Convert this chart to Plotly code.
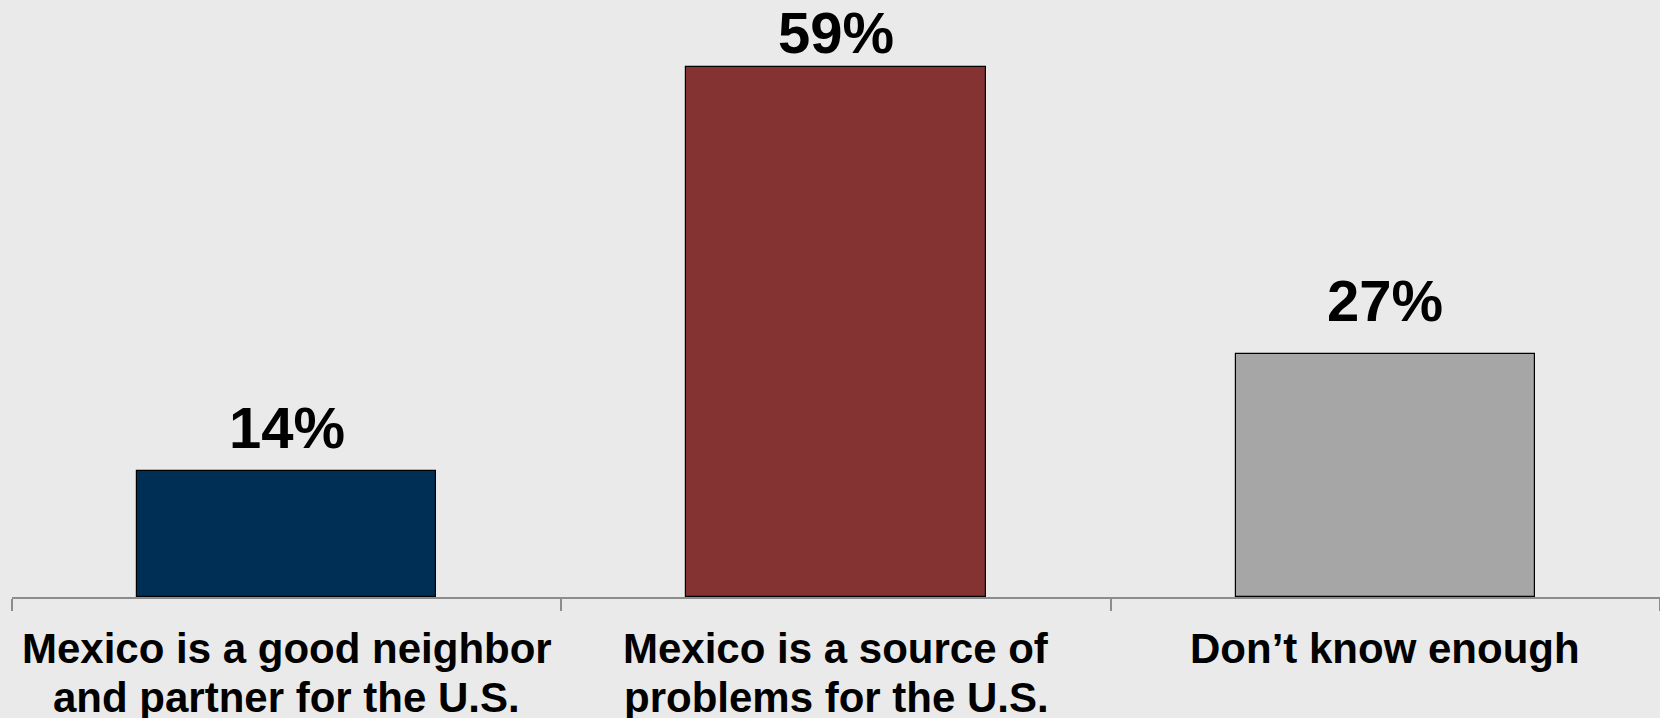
import plotly.graph_objects as go

# ---- data ----
categories = [
    ["Mexico is a good neighbor", "and partner for the U.S."],
    ["Mexico is a source of", "problems for the U.S."],
    ["Don\u2019t know enough"],
]
values = [14, 59, 27]
value_labels = ["14%", "59%", "27%"]

# ---- styles ----
bar_colors = ["#002F56", "#843232", "#A6A6A6"]
label_yshift = [9, 0, 19]          # pixel offsets of value labels above bars
line_shift = [-26, -75]            # pixel offsets of category label lines below axis
bg = "#EAEAEA"
axis_col = "#8C8C8C"
FONT = "Liberation Sans, Arial, Helvetica, sans-serif"

xpos = list(range(len(values)))

fig = go.Figure()
fig.add_trace(go.Bar(
    x=xpos, y=values, width=0.545,
    marker=dict(color=bar_colors, line=dict(color="#000000", width=1.2)),
    hoverinfo="skip", showlegend=False,
))

annotations = []
for i, (v, lab) in enumerate(zip(values, value_labels)):
    annotations.append(dict(
        x=xpos[i], y=v, xref="x", yref="y", text=lab, showarrow=False,
        xanchor="center", yanchor="bottom", yshift=label_yshift[i],
        font=dict(family=FONT, size=58, color="#000000", weight="bold"),
    ))
for i, lines in enumerate(categories):
    for j, line in enumerate(lines):
        annotations.append(dict(
            x=xpos[i], y=0, xref="x", yref="paper", text=line, showarrow=False,
            xanchor="center", yanchor="top", yshift=line_shift[j],
            font=dict(family=FONT, size=42, color="#000000", weight="bold"),
        ))

fig.update_layout(
    width=1660, height=718,
    margin=dict(l=12, r=0, t=0, b=121),
    paper_bgcolor=bg, plot_bgcolor=bg,
    bargap=0,
    annotations=annotations,
    xaxis=dict(
        range=[-0.5, 2.5], tickmode="array",
        tickvals=[-0.5, 0.5, 1.5, 2.5], ticktext=["", "", "", ""],
        ticks="outside", ticklen=12, tickwidth=2, tickcolor=axis_col,
        showline=True, linecolor=axis_col, linewidth=2,
        showgrid=False, zeroline=False, showticklabels=False, fixedrange=True,
    ),
    yaxis=dict(
        range=[0, 66.4], visible=False, showgrid=False, zeroline=False,
        fixedrange=True,
    ),
)

fig.write_html(
    "out.html",
    config={"displayModeBar": False},
    post_script="document.body.style.margin='0';document.body.style.background='#EAEAEA';",
)
